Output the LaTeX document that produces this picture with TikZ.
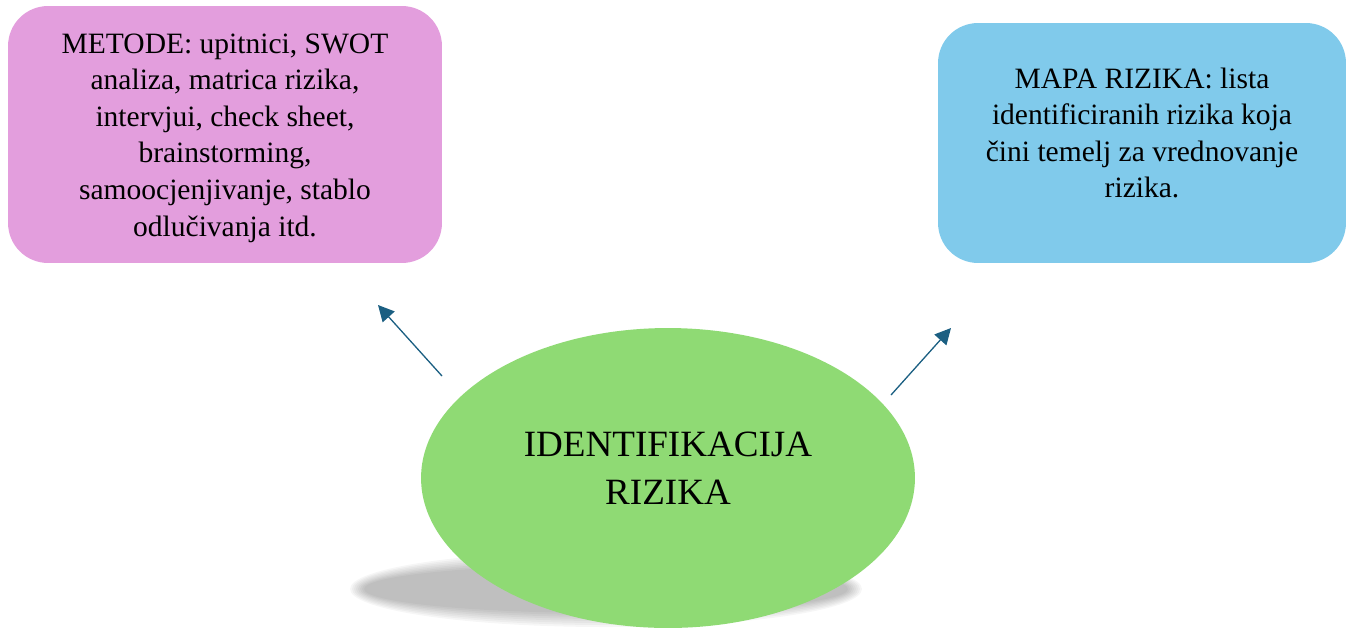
\documentclass[tikz,border=0pt]{standalone}
\usepackage{fontspec}
\setmainfont{Liberation Serif}
\usetikzlibrary{shapes.geometric,arrows.meta}
\definecolor{metodepink}{HTML}{E39EDD}
\definecolor{mapablue}{HTML}{80CAEB}
\definecolor{identgreen}{HTML}{8FDA74}
\definecolor{arrowblue}{HTML}{1B5F82}

\begin{document}
\begin{tikzpicture}
  [x=0.02cm,y=-0.02cm,
   box/.style={rectangle,rounded corners=0.8cm,inner sep=0pt},
   txt/.style={align=center,inner sep=0pt,font=\fontsize{16.8}{20.8}\selectfont},
   arr/.style={-{Triangle[length=0.32cm,width=0.32cm]},draw=arrowblue,fill=arrowblue,line width=0.026cm}]
  \useasboundingbox (0,0) rectangle (1352,630);

  % blurred shadow below the ellipse
  \foreach \k in {0,2,...,14}
  \fill[black,opacity=0.035] (606,589) ellipse ({256-\k} and {38-\k});

  \node[box,fill=metodepink,minimum width=8.68cm,minimum height=5.14cm] (metode) at (225,134.5) {};
  \node[txt] (metodetxt) at (225,138) {METODE: upitnici, SWOT\\analiza, matrica rizika,\\intervjui, check sheet,\\brainstorming,\\samoocjenjivanje, stablo\\odlučivanja itd.};

  \node[box,fill=mapablue,minimum width=8.16cm,minimum height=4.8cm] (mapa) at (1142,143) {};
  \node[txt] (mapatxt) at (1142,133) {MAPA RIZIKA: lista\\identificiranih rizika koja\\čini temelj za vrednovanje\\rizika.};

  \node[ellipse,fill=identgreen,inner sep=0pt,minimum width=9.88cm,minimum height=6cm] (ident) at (668,478) {};
  \node[align=center,inner sep=0pt,font=\fontsize{21.1}{27.2}\selectfont] (identtxt) at (668,468) {IDENTIFIKACIJA\\RIZIKA};

  \coordinate (m1) at (442,376);
  \coordinate (m2) at (378,305);
  \coordinate (p1) at (891,395);
  \coordinate (p2) at (951,328);

  \foreach \from/\to in {m1/m2, p1/p2}
  \draw[arr] (\from) -- (\to);
\end{tikzpicture}
\end{document}
